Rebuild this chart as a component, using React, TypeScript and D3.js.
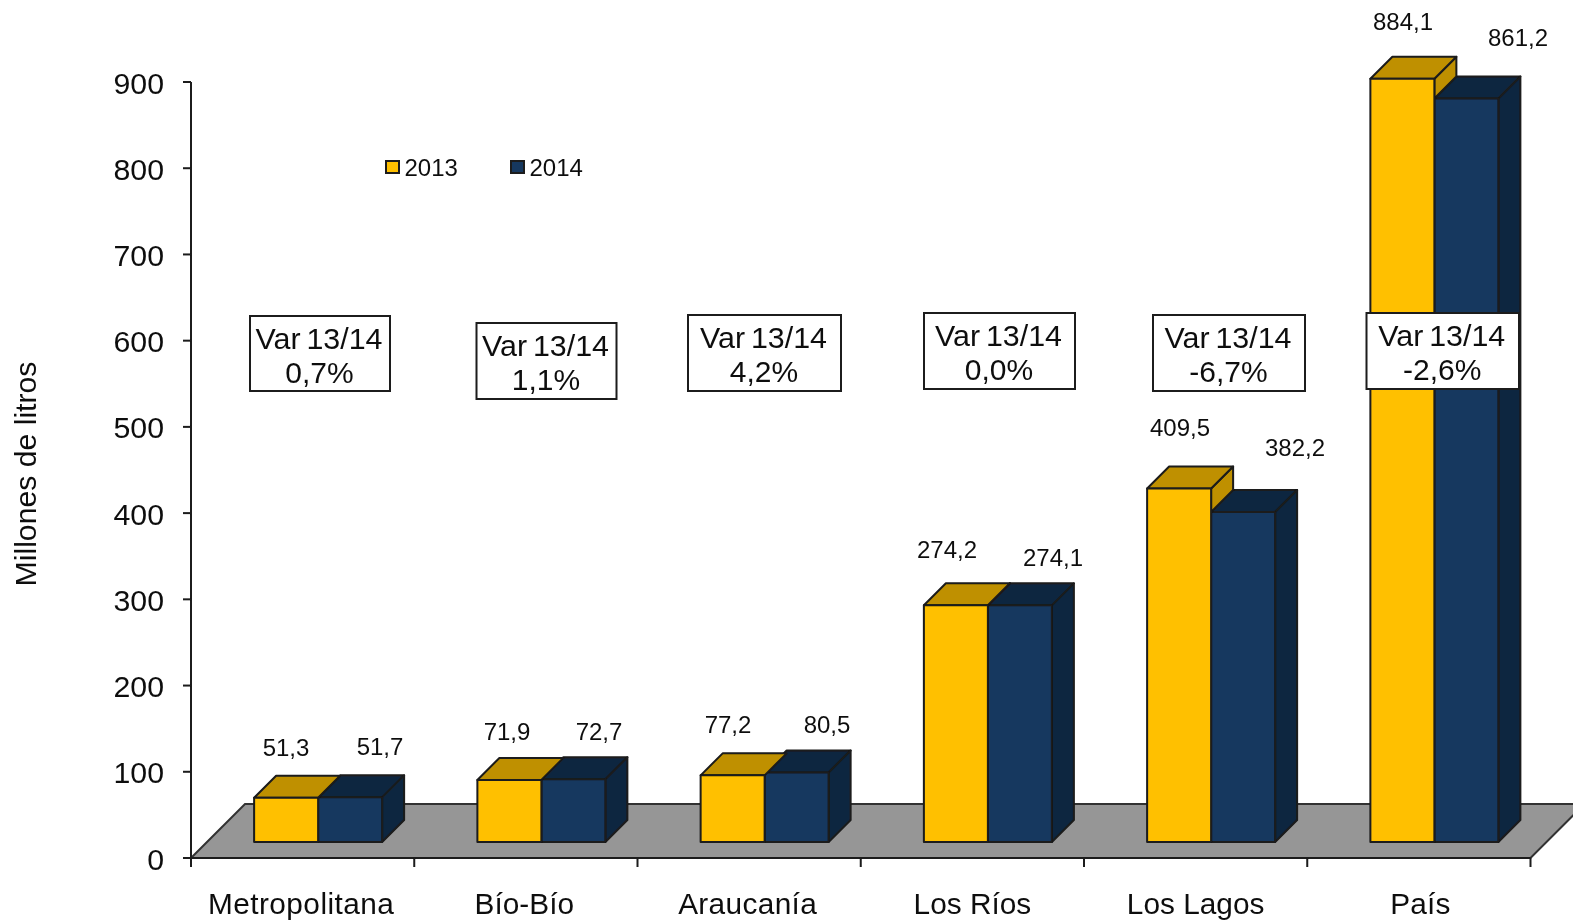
import React from "react";
import * as d3 from "d3";

const categories = ["Metropolitana", "Bío-Bío", "Araucanía", "Los Ríos", "Los Lagos", "País"];
const values2013 = [51.3, 71.9, 77.2, 274.2, 409.5, 884.1];
const values2014 = [51.7, 72.7, 80.5, 274.1, 382.2, 861.2];
const variation = ["0,7%", "1,1%", "4,2%", "0,0%", "-6,7%", "-2,6%"];
const yTicks = [0, 100, 200, 300, 400, 500, 600, 700, 800, 900];

// annotation and label placement
const boxRects = [
  [250, 316, 140, 75], [476.5, 323, 140, 76], [688, 315, 153, 76],
  [924, 313, 151, 76], [1153, 315, 152, 76], [1366.5, 313, 152.5, 76],
];
const labelPos2013 = [[286, 751], [507, 735], [728, 728], [947, 553], [1180, 431], [1403, 25]];
const labelPos2014 = [[380, 750], [599, 735], [827, 728], [1053, 561], [1295, 451], [1518, 41]];
const xLabelSpacing = [0.45, 0.05, 0.35, 0, 0, 0.1];
const xLabelShift = [-1.5, -1.5, -1.5, 0, 0, 1.5];

const FONT = "'Liberation Sans', Arial, sans-serif";
const YELLOW = "#FFC000", YELLOW_TOP = "#BF9000";
const NAVY = "#17375E", NAVY_TOP = "#10253F";
const LINE = "#1a1a1a";

const x0 = 191, x1 = 1530.5, y0 = 858, yTop = 82;
const floorDepth = 54, barDepth = 22, barW = 64;

const x = d3.scaleBand<string>().domain(categories).range([x0, x1]);
const y = d3.scaleLinear().domain([0, 900]).range([y0, yTop]);
const barBase = 842;
const barY = d3.scaleLinear().domain([0, 900]).range([barBase, barBase - 777]);

const pts = (p: number[][]) => p.map((q) => q.join(",")).join(" ");

function Bar({ left, top, fill, topFill, side }: { left: number; top: number; fill: string; topFill: string; side: boolean }) {
  const r = left + barW;
  return (
    <g stroke={LINE} strokeWidth={2} strokeLinejoin="round">
      <polygon points={pts([[left, top], [left + barDepth, top - barDepth], [r + barDepth, top - barDepth], [r, top]])} fill={topFill} />
      {side && (
        <polygon points={pts([[r, top], [r + barDepth, top - barDepth], [r + barDepth, barBase - barDepth], [r, barBase]])} fill={NAVY_TOP} />
      )}
      <rect x={left} y={top} width={barW} height={barBase - top} fill={fill} />
    </g>
  );
}

export default function App() {
  const bw = x.bandwidth();
  return (
    <svg width={1573} height={920} style={{ position: "absolute", left: 0, top: 0, display: "block", background: "#fff" }} fontFamily={FONT} fill="#000">
      <defs>
        <filter id="soft" x="0" y="0" width="100%" height="100%" filterUnits="userSpaceOnUse" primitiveUnits="userSpaceOnUse">
          <feGaussianBlur stdDeviation="0.45" />
        </filter>
      </defs>
      <g filter="url(#soft)">
        <rect x={0} y={0} width={1573} height={920} fill="#fff" />
        {/* floor */}
        <polygon
          points={pts([[x0, y0], [x0 + floorDepth, y0 - floorDepth], [x1 + floorDepth, y0 - floorDepth], [x1, y0]])}
          fill="#969696" stroke="#333" strokeWidth={2}
        />
        {/* axes */}
        <g stroke={LINE} strokeWidth={2}>
          <line x1={x0} x2={x0} y1={yTop} y2={y0} />
          <line x1={x0} x2={x1} y1={y0} y2={y0} />
          {yTicks.map((t) => <line key={t} x1={x0 - 8} x2={x0} y1={y(t)} y2={y(t)} />)}
          {[...categories.map((c) => x(c)!), x1].map((v, i) => <line key={i} x1={v} x2={v} y1={y0} y2={y0 + 9} />)}
        </g>
        {yTicks.map((t) => (
          <text key={t} x={164} y={y(t) + 11.5} fontSize={30.3} textAnchor="end" fill="#111">{t}</text>
        ))}
        {categories.map((c, i) => (
          <text key={c} x={x(c)! + bw / 2 + xLabelShift[i]} y={913.5} fontSize={29.8} letterSpacing={xLabelSpacing[i]} textAnchor="middle" fill="#111">{c}</text>
        ))}
        <text transform="translate(36,474) rotate(-90)" fontSize={30.2} textAnchor="middle" fill="#111">Millones de litros</text>

        {/* bars */}
        {categories.map((c, i) => {
          const left = x(c)! + bw / 2 + 15.5 - barW;
          const t13 = barY(values2013[i]);
          const t14 = barY(values2014[i]);
          const mid = left + barW;
          return (
            <g key={c}>
              <Bar left={mid} top={t14} fill={NAVY} topFill={NAVY_TOP} side />
              {t13 < t14 && (
                <polygon
                  points={pts([[mid, t13], [mid + barDepth, t13 - barDepth], [mid + barDepth, t14 - barDepth], [mid, t14]])}
                  fill={YELLOW_TOP} stroke={LINE} strokeWidth={2} strokeLinejoin="round"
                />
              )}
              <Bar left={left} top={t13} fill={YELLOW} topFill={YELLOW_TOP} side={false} />
            </g>
          );
        })}

        {/* value labels */}
        {values2013.map((v, i) => (
          <text key={i} x={labelPos2013[i][0]} y={labelPos2013[i][1] + 5} fontSize={24} textAnchor="middle" fill="#111">{String(v).replace(".", ",")}</text>
        ))}
        {values2014.map((v, i) => (
          <text key={i} x={labelPos2014[i][0]} y={labelPos2014[i][1] + 5} fontSize={24} textAnchor="middle" fill="#111">{String(v).replace(".", ",")}</text>
        ))}

        {/* variation boxes */}
        {variation.map((v, i) => {
          const [bx, by, bwid, bh] = boxRects[i];
          return (
            <g key={i}>
              <rect x={bx} y={by} width={bwid} height={bh} fill="#fff" stroke={LINE} strokeWidth={2} />
              <text x={bx + bwid / 2 - 1} y={by + 33} fontSize={30.4} wordSpacing={-2.5} textAnchor="middle" fill="#111">Var 13/14</text>
              <text x={bx + bwid / 2 - 0.5} y={by + 67} fontSize={30} textAnchor="middle" fill="#111">{v}</text>
            </g>
          );
        })}

        {/* legend */}
        <rect x={386} y={161} width={13} height={12} fill={YELLOW} stroke={LINE} strokeWidth={2} />
        <text x={404.5} y={176} fontSize={24} fill="#111">2013</text>
        <rect x={511} y={161} width={13} height={12} fill={NAVY} stroke={LINE} strokeWidth={2} />
        <text x={529.5} y={176} fontSize={24} fill="#111">2014</text>
      </g>
    </svg>
  );
}
